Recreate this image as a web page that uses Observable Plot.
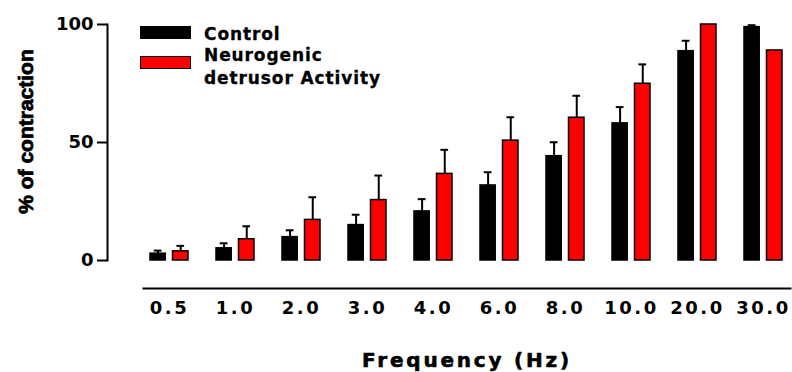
<!DOCTYPE html>
<html>
<head>
<meta charset="utf-8">
<script src="https://cdn.jsdelivr.net/npm/d3@7"></script>
<script src="https://cdn.jsdelivr.net/npm/@observablehq/plot@0.6"></script>
<style>
  html, body { margin: 0; padding: 0; background: #fff; }
  #wrap { position: relative; width: 792px; height: 372px; }
  #wrap svg g[aria-label="x-axis tick label"] { letter-spacing: 2.5px; }
  .legend { position: absolute; font-family: "DejaVu Sans", sans-serif; font-weight: bold; font-size: 17px; letter-spacing: 0.9px; color: #000; -webkit-text-stroke: 0.3px #000; }
  .sw { position: absolute; width: 49px; height: 11px; border: 1.5px solid #000; }
  .lt { position: absolute; white-space: nowrap; line-height: 23px; }
</style>
</head>
<body>
<div id="wrap"></div>
<script>
const frequencies = ["0.5","1.0","2.0","3.0","4.0","6.0","8.0","10.0","20.0","30.0"];
const controlMean = [2.9, 5.2, 9.9, 15.0, 20.8, 31.8, 44.2, 58.1, 88.7, 98.9];
const controlErr  = [1.3, 2.1, 2.9, 4.4, 5.2, 5.6, 5.9, 6.9, 4.4, 0.8];
const ndaMean     = [3.9, 9.0, 17.2, 25.6, 36.7, 50.8, 60.5, 74.9, 100, 89.0];
const ndaErr      = [2.3, 5.5, 9.6, 10.4, 10.2, 9.9, 9.3, 8.2, 0, 0];
const seriesNames = ["Control", "Neurogenic detrusor Activity"];
const seriesColors = ["#000000", "#ff0000"];
const yTicks = [0, 50, 100];
const yTitle = "% of contraction";
const xTitle = "Frequency (Hz)";

const control = frequencies.map((f, i) => ({freq: f, value: controlMean[i], err: controlErr[i]}));
const nda = frequencies.map((f, i) => ({freq: f, value: ndaMean[i], err: ndaErr[i]}));

const BW = 38.29; // band width in px (from paddings below)
const font = "DejaVu Sans";

const chart = Plot.plot({
  width: 792,
  height: 372,
  marginTop: 24,
  marginBottom: 112,
  marginLeft: 143,
  marginRight: 2,
  style: {background: "#fff"},
  x: {domain: frequencies, paddingInner: 0.42, paddingOuter: 0.11, axis: null},
  y: {domain: [0, 100], axis: null},
  marks: [
    // error bars (upper half)
    Plot.ruleX(control.filter(d => d.err > 0), {x: "freq", y1: "value", y2: d => d.value + d.err, dx: -11.4, stroke: "#000", strokeWidth: 2}),
    Plot.ruleX(nda.filter(d => d.err > 0), {x: "freq", y1: "value", y2: d => d.value + d.err, dx: 11.25, stroke: "#000", strokeWidth: 2}),
    Plot.tickY(control.filter(d => d.err > 0), {x: "freq", y: d => d.value + d.err, insetLeft: 3.75, insetRight: 26.5, stroke: "#000", strokeWidth: 2}),
    Plot.tickY(nda.filter(d => d.err > 0), {x: "freq", y: d => d.value + d.err, insetLeft: 26.4, insetRight: 3.9, stroke: "#000", strokeWidth: 2}),
    // bars
    Plot.barY(control, {x: "freq", y: "value", fill: seriesColors[0], stroke: "#000", strokeWidth: 1.5, insetRight: BW - 15.5}),
    Plot.barY(nda, {x: "freq", y: "value", fill: seriesColors[1], stroke: "#000", strokeWidth: 1.5, insetLeft: 22.5}),
    // axes
    Plot.frame({anchor: "left", dx: -36, stroke: "#000", strokeWidth: 2}),
    Plot.frame({anchor: "bottom", dy: 28, stroke: "#000", strokeWidth: 2}),
    Plot.axisY(yTicks, {anchor: "left", dx: -36, tickSize: 10, tickPadding: 4, strokeWidth: 2, label: null,
      fontFamily: font, fontSize: 18, fontWeight: "bold", fill: "#000", stroke: "#000"}),
    Plot.axisX({anchor: "bottom", tickSize: 0, tickPadding: 41, label: null,
      fontFamily: font, fontSize: 18, fontWeight: "bold", fill: "#000", stroke: "#000", strokeWidth: 0.6}),
    Plot.text([yTitle], {text: d => d, frameAnchor: "left", textAnchor: "middle", lineAnchor: "middle", rotate: -90, dx: -117, dy: -11,
      fontFamily: "Liberation Sans", fontSize: 21, fontWeight: "bold", fill: "#000", stroke: "#000", strokeWidth: 0.8}),
    Plot.text([xTitle], {text: d => d, frameAnchor: "bottom", textAnchor: "middle", lineAnchor: "middle", dy: 100,
      fontFamily: font, fontSize: 20, fontWeight: "bold", fill: "#000", stroke: "#000", strokeWidth: 0.6})
  ]
});

const wrap = document.getElementById("wrap");
wrap.appendChild(chart);
// letter spacing on x title
d3.select(chart).selectAll('g[aria-label="text"]').filter((d, i) => i === 1).style("letter-spacing", "2.8px");

// legend overlay
const legend = document.createElement("div");
legend.className = "legend";
legend.style.left = "0px"; legend.style.top = "0px";
legend.innerHTML = `
  <div class="sw" style="left:140px;top:26px;background:${seriesColors[0]}"></div>
  <div class="lt" style="left:204px;top:23px">${seriesNames[0]}</div>
  <div class="sw" style="left:140px;top:56px;background:${seriesColors[1]}"></div>
  <div class="lt" style="left:204px;top:44px">Neurogenic<br>detrusor Activity</div>`;
wrap.appendChild(legend);
</script>
</body>
</html>
